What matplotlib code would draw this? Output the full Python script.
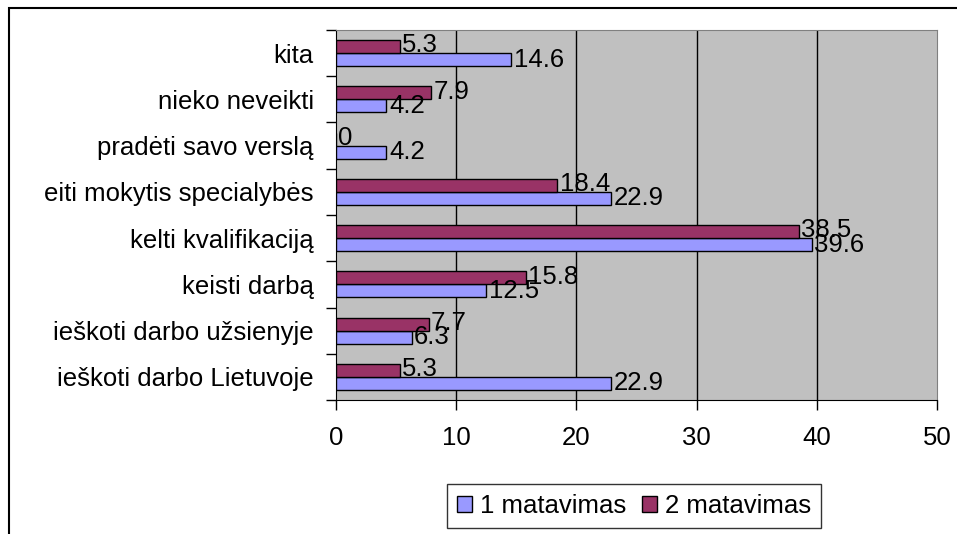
import matplotlib
matplotlib.use("Agg")
import matplotlib.pyplot as plt
from matplotlib.patches import Rectangle
import numpy as np

categories = ["ieškoti darbo Lietuvoje", "ieškoti darbo užsienyje", "keisti darbą",
              "kelti kvalifikaciją", "eiti mokytis specialybės", "pradėti savo verslą",
              "nieko neveikti", "kita"]
series1 = [22.9, 6.3, 12.5, 39.6, 22.9, 4.2, 4.2, 14.6]
series2 = [5.3, 7.7, 15.8, 38.5, 18.4, 0, 7.9, 5.3]
labels1 = ["22.9", "6.3", "12.5", "39.6", "22.9", "4.2", "4.2", "14.6"]
labels2 = ["5.3", "7.7", "15.8", "38.5", "18.4", "0", "7.9", "5.3"]
series_names = ["1 matavimas", "2 matavimas"]

plt.rcParams["font.family"] = ["Liberation Sans", "DejaVu Sans"]
FS = 18.5

fig = plt.figure(figsize=(9.57, 5.34), dpi=100)
ax = fig.add_axes([336 / 957, 134 / 534, 601 / 957, 370 / 534])
ax.set_facecolor("#C0C0C0")

y = np.arange(len(categories))
h = 0.28
b1 = ax.barh(y - h / 2, series1, h, color="#9999FF", edgecolor="black", linewidth=1.0,
             label=series_names[0], zorder=3)
b2 = ax.barh(y + h / 2, series2, h, color="#993366", edgecolor="black", linewidth=1.0,
             label=series_names[1], zorder=3)
for yi, v, s in zip(y, series1, labels1):
    ax.text(v + 0.2, yi - h / 2, s, ha="left", va="center", fontsize=FS, zorder=4)
for yi, v, s in zip(y, series2, labels2):
    ax.text(v + 0.2, yi + h / 2 + 0.03, s, ha="left", va="center", fontsize=FS, zorder=4)

ax.set_xlim(0, 50)
ax.set_ylim(-0.5, len(categories) - 0.5)
ax.set_xticks(np.arange(0, 51, 10))
ax.tick_params(axis="x", labelsize=FS, direction="out", length=7, width=1, pad=12)
ax.set_yticks(np.arange(-0.5, len(categories), 1.0))
ax.set_yticklabels([])
ax.set_yticks(y, minor=True)
ax.set_yticklabels(categories, minor=True, fontsize=FS)
ax.tick_params(axis="y", which="major", direction="out", length=7, width=1)
ax.tick_params(axis="y", which="minor", length=0, pad=16)
for xv in [10, 20, 30, 40]:
    ax.axvline(xv, color="black", linewidth=1.0, zorder=2)

ax.spines["left"].set_color("black")
ax.spines["bottom"].set_color("black")
ax.spines["top"].set_color("#808080")
ax.spines["right"].set_color("#808080")

leg = fig.legend(handles=[b1, b2], loc="center", bbox_to_anchor=(634 / 957, 28 / 534),
                 ncol=2, fontsize=FS, frameon=True, fancybox=False, edgecolor="black",
                 handlelength=0.6, handleheight=0.6, handletextpad=0.3, columnspacing=0.6,
                 borderpad=0.4)
leg.get_frame().set_linewidth(1.0)

fig.patches.append(Rectangle((9 / 957, -0.1), 1.2, (526 / 534) + 0.1, transform=fig.transFigure,
                             fill=False, edgecolor="black", linewidth=1.5))

fig.savefig("out.png", dpi=100)
